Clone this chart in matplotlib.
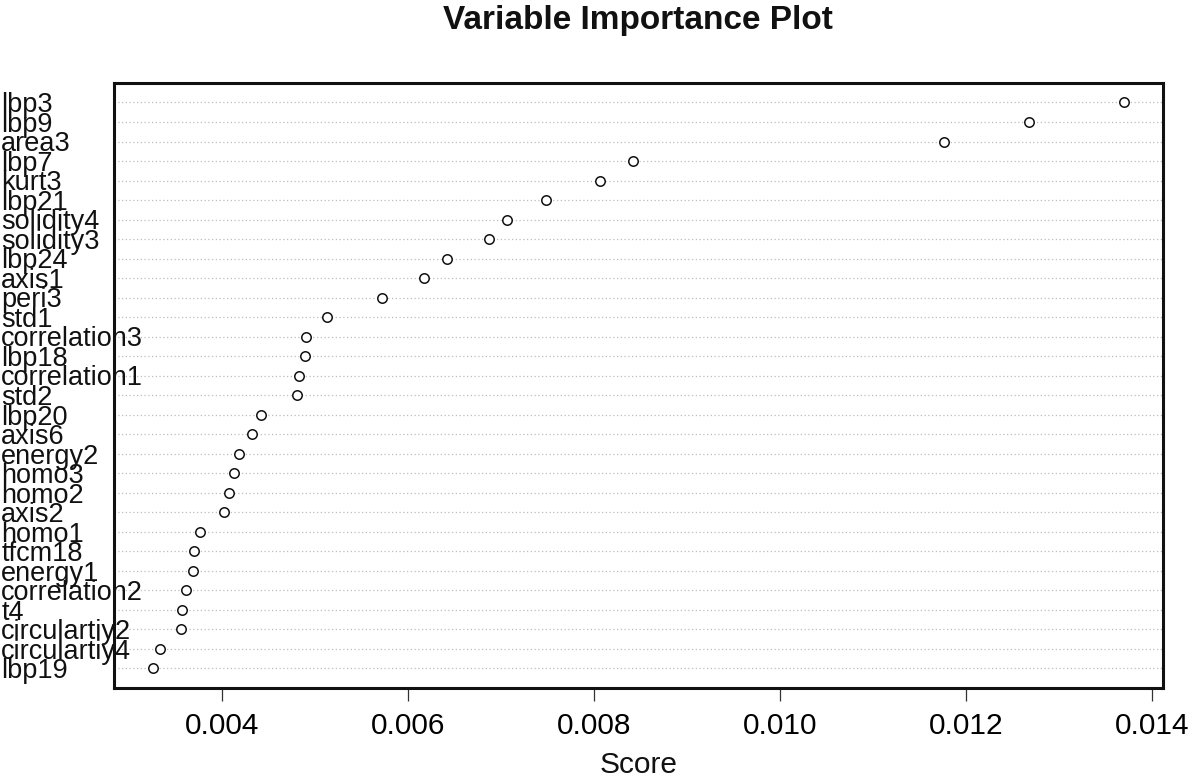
import matplotlib
matplotlib.use("Agg")
import matplotlib.pyplot as plt
import matplotlib.transforms as mtransforms

# variables, top to bottom as in the chart
variables = ["lbp3", "lbp9", "area3", "lbp7", "kurt3", "lbp21", "solidity4",
             "solidity3", "lbp24", "axis1", "peri3", "std1", "correlation3",
             "lbp18", "correlation1", "std2", "lbp20", "axis6", "energy2",
             "homo3", "homo2", "axis2", "homo1", "tfcm18", "energy1",
             "correlation2", "t4", "circulartiy2", "circulartiy4", "lbp19"]
scores = [0.01370, 0.01268, 0.01177, 0.00842, 0.00807, 0.00749, 0.00707,
          0.00687, 0.00642, 0.00618, 0.00572, 0.00513, 0.00491, 0.00490,
          0.00483, 0.00481, 0.00442, 0.00433, 0.00419, 0.00413, 0.00408,
          0.00402, 0.00377, 0.00370, 0.00369, 0.00362, 0.00357, 0.00356,
          0.00334, 0.00326]
xticks = [0.004, 0.006, 0.008, 0.010, 0.012, 0.014]

plt.rcParams["font.family"] = ["Liberation Sans", "DejaVu Sans"]

fig = plt.figure(figsize=(12, 7.82), dpi=100)
ax = fig.add_axes([0.095, 0.1202, 0.874, 0.7737])

n = len(variables)
ypos = list(range(n, 0, -1))  # first variable at top

# dotted guide lines for every row
for y in ypos:
    ax.axhline(y, color="#bdbdbd", linestyle=(0, (1, 2)), linewidth=0.9, zorder=1)

ax.plot(scores, ypos, linestyle="none", marker="o", markersize=6.8,
        markerfacecolor="white", markeredgecolor="#111111",
        markeredgewidth=1.1, zorder=3)

ax.margins(x=0.04)
ax.set_ylim(0, n + 1)
ax.set_yticks([])
ax.set_xticks(xticks)
ax.set_xticklabels([f"{t:.3f}" for t in xticks], fontsize=21.5)
ax.tick_params(axis="x", direction="out", length=9, width=0.9,
               color="#333333", pad=8)

for side in ax.spines.values():
    side.set_linewidth(2.2)
    side.set_color("#111111")

# row labels hanging off the left edge of the figure
trans = mtransforms.blended_transform_factory(fig.transFigure, ax.transData)
for name, y in zip(variables, ypos):
    ax.text(0.001, y - 0.5, name, transform=trans, ha="left", va="baseline",
            fontsize=19.5, color="#111111", clip_on=False)

fig.text(0.532, 1 - 21 / 782, "Variable Importance Plot", ha="center",
         va="center", fontsize=24, fontweight="bold", color="#111111")
fig.text(0.532, 1 - 765 / 782, "Score", ha="center", va="center",
         fontsize=21.5, color="#111111")

fig.savefig("out.png", dpi=100, facecolor="white")
